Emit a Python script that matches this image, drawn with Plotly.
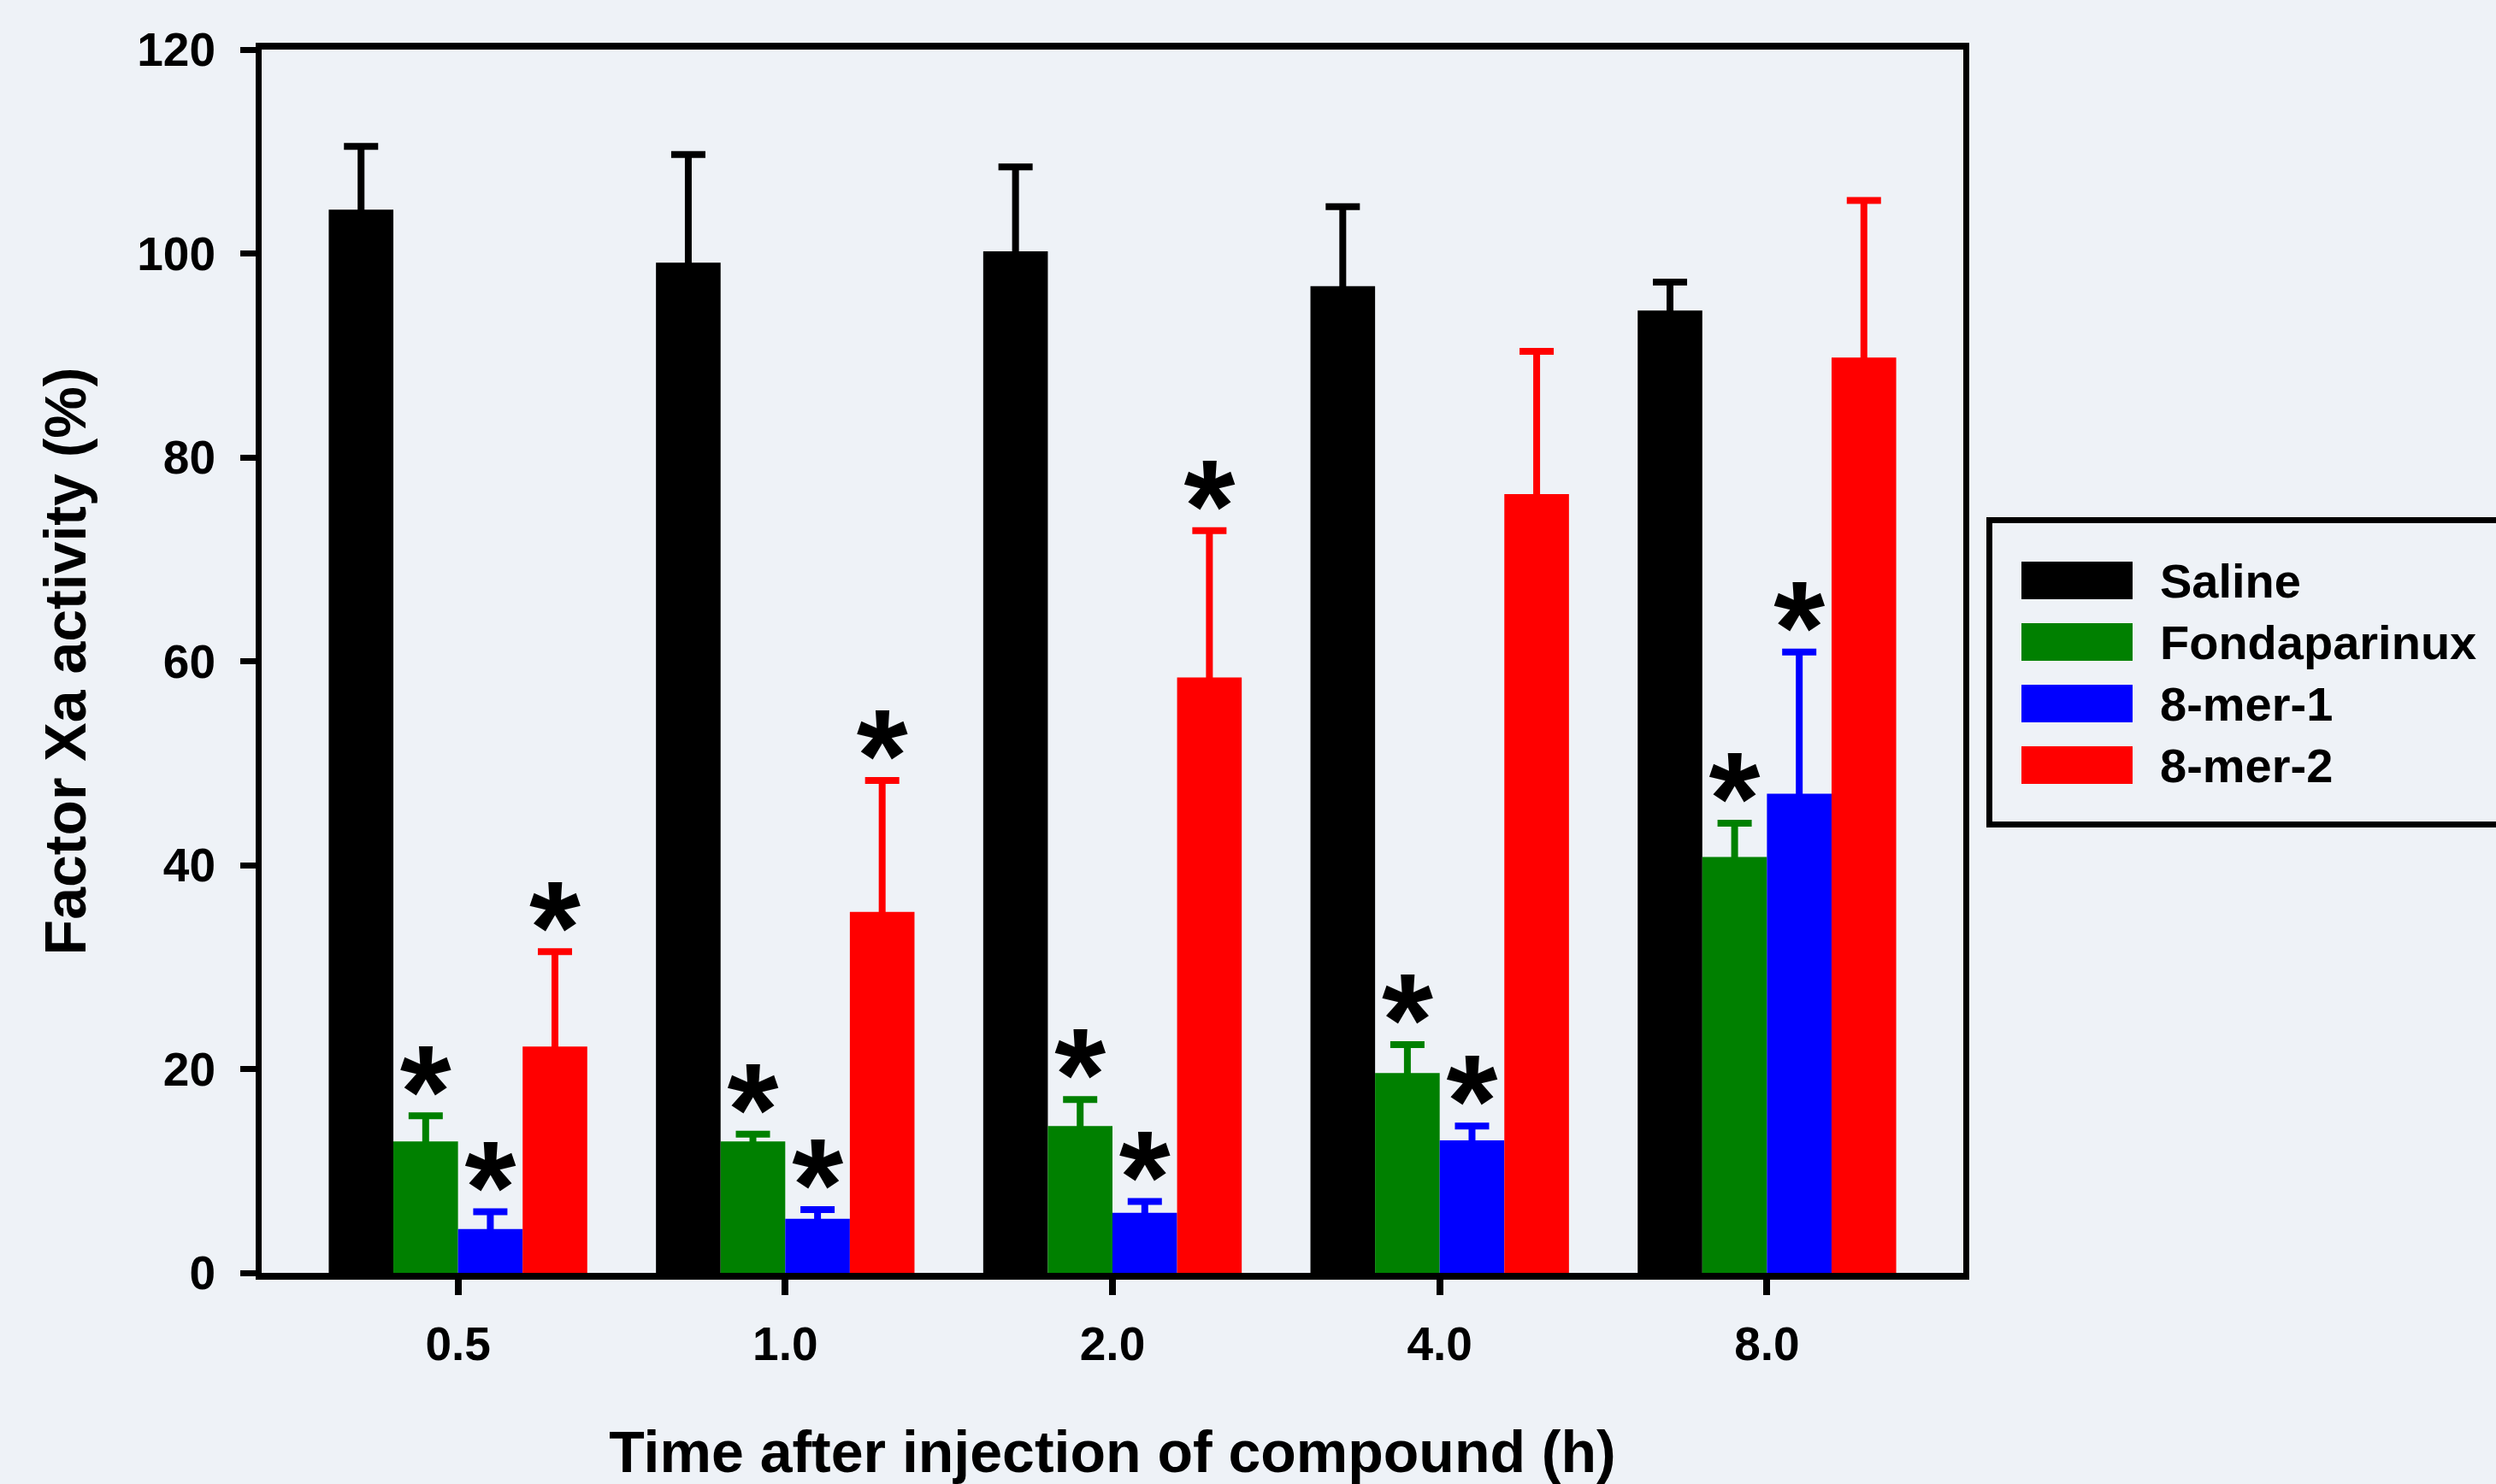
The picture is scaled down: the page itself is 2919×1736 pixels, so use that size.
import plotly.graph_objects as go

# ---------------- data ----------------
time_labels = ["0.5", "1.0", "2.0", "4.0", "8.0"]
series_names = ["Saline", "Fondaparinux", "8-mer-1", "8-mer-2"]
series_colors = ["#000000", "#008000", "#0000FF", "#FF0000"]

saline = [104.3, 99.1, 100.2, 96.8, 94.4]
saline_err = [6.2, 10.6, 8.3, 7.8, 2.8]
fonda = [12.9, 12.9, 14.4, 19.6, 40.8]
fonda_err = [2.5, 0.7, 2.6, 2.8, 3.3]
mer1 = [4.3, 5.3, 5.9, 13.0, 47.0]
mer1_err = [1.7, 0.9, 1.1, 1.4, 13.9]
mer2 = [22.2, 35.4, 58.4, 76.4, 89.8]
mer2_err = [9.3, 12.9, 14.4, 14.0, 15.4]

saline_sig = [False, False, False, False, False]
fonda_sig = [True, True, True, True, True]
mer1_sig = [True, True, True, True, True]
mer2_sig = [True, True, True, False, False]

values = [saline, fonda, mer1, mer2]
errors = [saline_err, fonda_err, mer1_err, mer2_err]
sigs = [saline_sig, fonda_sig, mer1_sig, mer2_sig]

# ---------------- style ----------------
BG = "#EEF2F7"
FONT = "Liberation Sans, Arial, sans-serif"
W, H = 2919, 1736
L, R, T, B = 306, 623, 58, 247
BARGAP = 0.21
STAR_OFFSET = 1.2  # data units above error cap

x_idx = list(range(len(time_labels)))
n = len(series_names)
bw = (1 - BARGAP) / n

fig = go.Figure()
for j, (name, col, v, e) in enumerate(zip(series_names, series_colors, values, errors)):
    fig.add_trace(go.Bar(
        x=x_idx, y=v, name=name,
        marker=dict(color=col, line=dict(width=0)),
        error_y=dict(type="data", array=e, symmetric=True,
                     color=col, thickness=8, width=20),
        showlegend=False,
    ))

# significance asterisks
for j in range(n):
    xs, ys = [], []
    for i in x_idx:
        if sigs[j][i]:
            xs.append(i + (j - (n - 1) / 2) * bw)
            ys.append(values[j][i] + errors[j][i] + STAR_OFFSET)
    if xs:
        fig.add_trace(go.Scatter(
            x=xs, y=ys, mode="text", text=["*"] * len(xs),
            textposition="middle center",
            textfont=dict(family=FONT, size=154, color="#000000", weight="bold"),
            showlegend=False, hoverinfo="skip",
        ))

pw = W - L - R
ph = H - T - B

def px_x(p):
    return (p - L) / pw

def px_y(p):
    return (H - B - p) / ph

# custom legend
shapes = [dict(type="rect", xref="paper", yref="paper",
               x0=px_x(2326.5), x1=px_x(2960), y0=px_y(608.5), y1=px_y(964.5),
               line=dict(color="#000000", width=7), fillcolor="rgba(0,0,0,0)", layer="above")]
annotations = []
row0, row_step = 679, 72
for k, (name, col) in enumerate(zip(series_names, series_colors)):
    cy = row0 + k * row_step
    shapes.append(dict(type="rect", xref="paper", yref="paper",
                       x0=px_x(2364), x1=px_x(2494), y0=px_y(cy - 22), y1=px_y(cy + 22),
                       line=dict(width=0), fillcolor=col))
    annotations.append(dict(xref="paper", yref="paper", x=px_x(2524), y=px_y(cy),
                            xanchor="left", yanchor="middle", showarrow=False,
                            text=name, font=dict(family=FONT, size=56, color="#000000", weight="bold")))

fig.update_layout(
    width=W, height=H,
    margin=dict(l=L, r=R, t=T, b=B, autoexpand=False),
    paper_bgcolor=BG, plot_bgcolor=BG,
    barmode="group", bargap=BARGAP, bargroupgap=0,
    shapes=shapes, annotations=annotations,
    showlegend=False,
    font=dict(family=FONT, color="#000000"),
)
fig.update_xaxes(
    range=[-0.6, 4.6], tickvals=x_idx, ticktext=time_labels,
    showgrid=False, zeroline=False,
    showline=True, linecolor="#000000", linewidth=8, mirror=True,
    ticks="outside", ticklen=18, tickwidth=8, tickcolor="#000000",
    ticklabelstandoff=10,
    tickfont=dict(family=FONT, size=55, weight="bold"),
    title=dict(text="Time after injection of compound (h)", standoff=100,
               font=dict(family=FONT, size=68, weight="bold")),
)
fig.update_yaxes(
    range=[0, 120], tickvals=[0, 20, 40, 60, 80, 100, 120],
    showgrid=False, zeroline=False,
    showline=True, linecolor="#000000", linewidth=7, mirror=True,
    ticks="outside", ticklen=18, tickwidth=7, tickcolor="#000000",
    ticklabelstandoff=18,
    tickfont=dict(family=FONT, size=55, weight="bold"),
    title=dict(text="Factor Xa activity (%)", standoff=40,
               font=dict(family=FONT, size=68, weight="bold")),
)

fig.write_html(
    "out.html",
    config={"displayModeBar": False},
    post_script="document.body.style.margin='0';document.body.style.overflow='hidden';"
                "document.body.style.background='" + BG + "';",
)
